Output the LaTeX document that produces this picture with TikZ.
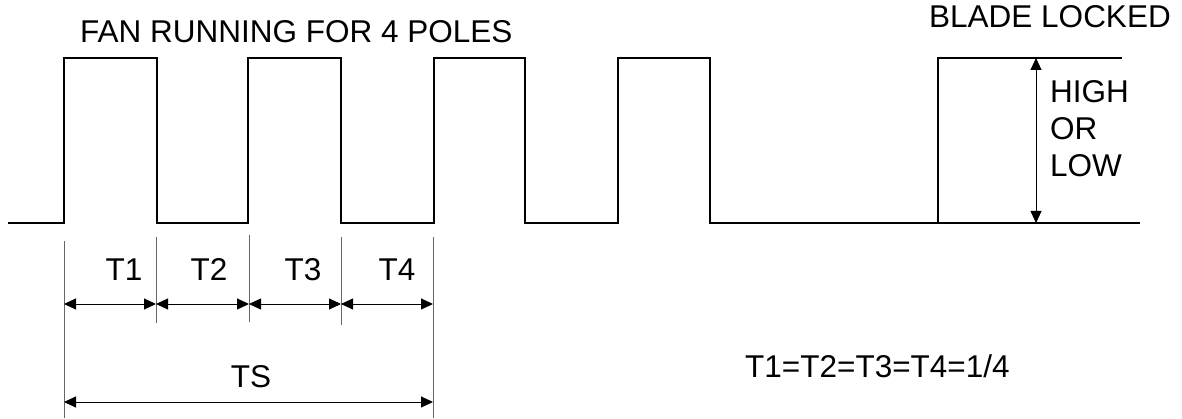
\documentclass[tikz,border=0pt]{standalone}
\usepackage{fontspec}
\setmainfont{Liberation Sans}
\usetikzlibrary{arrows.meta}
\tikzset{
  wave/.style={line width=1.1pt, black},
  extline/.style={line width=0.8pt, black!60},
  dimarrow/.style={line width=0.9pt, black, {Triangle[length=12pt,width=11pt]}-{Triangle[length=12pt,width=11pt]}},
  lbl/.style={font=\fontsize{31.5}{37}\selectfont, inner sep=0pt, anchor=base west},
  tlbl/.style={font=\fontsize{31.5}{37}\selectfont, inner sep=0pt, anchor=base}
}
\begin{document}
\begin{tikzpicture}[x=1pt,y=-1pt]
\useasboundingbox[fill=white] (0,0) rectangle (1182,419);
% waveform
\draw[wave] (8,223) -- (64,223) -- (64,58) -- (157,58) -- (157,223) -- (248,223) -- (248,58) -- (341,58) -- (341,223)
  -- (434,223) -- (434,58) -- (525,58) -- (525,223) -- (618,223) -- (618,58) -- (710,58) -- (710,223)
  -- (938,223) -- (938,58) -- (1122,58);
\draw[wave] (863,223) -- (1140,223);
% vertical dimension
\coordinate (hi) at (1036,58);
\coordinate (lo) at (1036,223);
\draw[dimarrow] (hi) -- (lo);
% extension lines
\coordinate (a0t) at (64,241);  \coordinate (a0b) at (64,418);
\coordinate (a1t) at (156,237); \coordinate (a1b) at (156,323);
\coordinate (a2t) at (249,235); \coordinate (a2b) at (249,322);
\coordinate (a3t) at (341,237); \coordinate (a3b) at (341,325);
\coordinate (a4t) at (433,237); \coordinate (a4b) at (433,418);
\foreach \i in {0,...,4} { \draw[extline] (a\i t) -- (a\i b); }
% dimension arrows
\coordinate (p0) at (64,304);  \coordinate (p1) at (156,304); \coordinate (p2) at (249,304);
\coordinate (p3) at (341,304); \coordinate (p4) at (433,304);
\coordinate (q0) at (64,402);  \coordinate (q4) at (433,402);
\draw[dimarrow] (p0) -- (p1);
\draw[dimarrow] (p1) -- (p2);
\draw[dimarrow] (p2) -- (p3);
\draw[dimarrow] (p3) -- (p4);
\draw[dimarrow] (q0) -- (q4);
% labels
\node[lbl] (fan) at (80,42.7) {FAN RUNNING FOR 4 POLES};
\node[lbl] (blade) at (929,28) {BLADE LOCKED};
\node[lbl] (high) at (1050,103) {HIGH};
\node[lbl] (or) at (1050,140) {OR};
\node[lbl] (low) at (1050,177) {LOW};
\node[tlbl] (t1) at (124,281) {T1};
\node[tlbl] (t2) at (209,281) {T2};
\node[tlbl] (t3) at (303,281) {T3};
\node[tlbl] (t4) at (397,281) {T4};
\node[tlbl] (ts) at (251,387) {TS};
\node[lbl] (eq) at (745,377) {T1=T2=T3=T4=1/4};
\end{tikzpicture}
\end{document}
